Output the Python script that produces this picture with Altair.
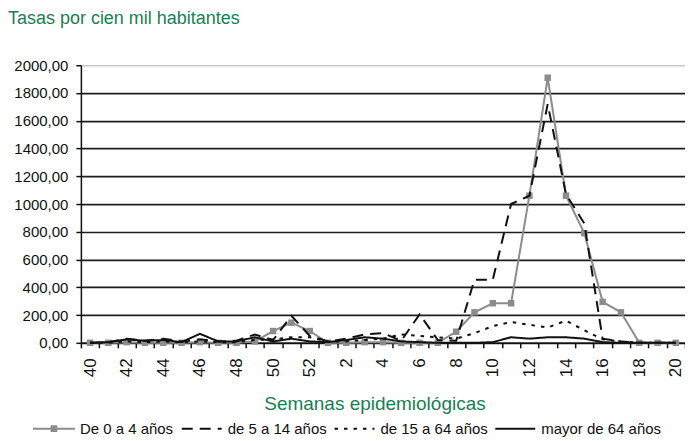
import altair as alt
import pandas as pd

weeks = [str(w) for w in list(range(40, 53)) + list(range(1, 21))]

series_names = ["De 0 a 4 años", "de 5 a 14 años", "de 15 a 64 años", "mayor de 64 años"]

g_0_4 = [0, 0, 5, 0, 0, 0, 5, 0, 0, 10, 85, 145, 85,
         0, 0, 5, 5, 0, 0, 0, 80, 220, 285, 285, 1060, 1910, 1060, 790, 295, 220, 0, 0, 0]
g_5_14 = [0, 5, 30, 15, 30, 10, 25, 10, 15, 60, 20, 195, 50,
          10, 30, 60, 70, 15, 205, 20, 15, 455, 455, 1000, 1060, 1720, 1070, 860, 30, 10, 0, 0, 0]
g_15_64 = [0, 0, 10, 5, 10, 5, 10, 5, 5, 20, 25, 40, 40,
           10, 10, 20, 30, 60, 50, 40, 30, 70, 120, 150, 130, 110, 160, 90, 25, 10, 0, 0, 0]
g_64 = [0, 5, 25, 15, 20, 5, 65, 10, 10, 40, 10, 30, 10,
        5, 20, 40, 30, 10, 5, 0, 0, 0, 5, 40, 30, 40, 40, 30, 5, 0, 0, 0, 0]

y_ticks = list(range(0, 2001, 200))

rows = []
for name, vals in zip(series_names, [g_0_4, g_5_14, g_15_64, g_64]):
    for w, v in zip(weeks, vals):
        rows.append({"semana": w, "tasa": v, "grupo": name})
df = pd.DataFrame(rows)
df_gray = df[df["grupo"] == series_names[0]]
df_black = df[df["grupo"] != series_names[0]]

FONT = "Liberation Sans"
GREEN = "#1b7d55"
GRAY = "#8c8c8c"
BLACK = "#111111"

x_enc = alt.X(
    "semana:N",
    sort=weeks,
    bandPosition=0.5,
    scale=alt.Scale(type="band", paddingInner=0, paddingOuter=0),
    axis=alt.Axis(
        title="Semanas epidemiológicas",
        titleColor=GREEN,
        titleFont=FONT,
        titleFontSize=19,
        titleFontWeight="normal",
        titlePadding=18,
        titleX=294,
        labelAngle=270,
        labelFont=FONT,
        labelFontSize=17,
        labelColor=BLACK,
        labelPadding=10,
        labelOverlap=False,
        labelExpr="toNumber(datum.value) % 2 == 0 ? datum.value : ''",
        tickBand="extent",
        tickColor=BLACK,
        tickSize=5,
        tickWidth=1.5,
        domainColor=BLACK,
        domainWidth=1.5,
        grid=False,
    ),
)

y_enc = alt.Y(
    "tasa:Q",
    scale=alt.Scale(domain=[0, 2000], nice=False),
    axis=alt.Axis(
        title=None,
        values=y_ticks,
        labelExpr="replace(format(datum.value, '.2f'), '.', ',')",
        labelFont=FONT,
        labelFontSize=15,
        labelColor=BLACK,
        labelPadding=8,
        tickColor=BLACK,
        tickSize=5,
        tickWidth=1.5,
        domainColor=BLACK,
        domainWidth=1.5,
        grid=True,
        gridColor={"condition": {"test": "datum.value >= 2000", "value": "#c8c8c8"}, "value": "#1e1e1e"},
        gridWidth=1.7,
    ),
)

legend_gray = alt.Legend(
    title=None,
    orient="none",
    legendX=-48,
    legendY=343,
    symbolSize=1764,
    symbolOpacity=1,
    symbolFillColor=GRAY,
    symbolStrokeWidth=0,
    labelFont=FONT,
    labelFontSize=15,
    labelColor=BLACK,
    labelOffset=5,
)

legend_black = alt.Legend(
    title=None,
    orient="none",
    legendX=100,
    legendY=343,
    direction="horizontal",
    columns=3,
    columnPadding=3,
    symbolType="stroke",
    symbolSize=1600,
    symbolStrokeWidth=2,
    symbolStrokeColor=BLACK,
    labelFont=FONT,
    labelFontSize=15,
    labelColor=BLACK,
    labelOffset=5,
)

gray_line = alt.Chart(df_gray).mark_line(strokeWidth=2, color=GRAY).encode(x=x_enc, y=y_enc)

gray_pts = alt.Chart(df_gray).mark_square(size=42, color=GRAY, opacity=1).encode(x=x_enc, y=y_enc)

gray_legend_layer = alt.Chart(df_gray).mark_point(filled=True, color=GRAY, opacity=0).encode(
    x=x_enc,
    y=y_enc,
    shape=alt.Shape(
        "grupo:N",
        scale=alt.Scale(
            domain=[series_names[0]],
            range=["M-1,-0.05H1V0.05H-1ZM-0.16,-0.16H0.16V0.16H-0.16Z"],
        ),
        legend=legend_gray,
    ),
)

black_lines = alt.Chart(df_black).mark_line(strokeWidth=2, color=BLACK).encode(
    x=x_enc,
    y=y_enc,
    strokeDash=alt.StrokeDash(
        "grupo:N",
        sort=series_names[1:],
        scale=alt.Scale(domain=series_names[1:], range=[[11, 7], [3.5, 6], [1, 0]]),
        legend=legend_black,
    ),
)

chart = alt.layer(gray_line, gray_pts, black_lines, gray_legend_layer).properties(
    width=605,
    height=278,
    padding={"left": 73, "top": 57, "right": 0, "bottom": 97},
    autosize=alt.AutoSizeParams(type="none"),
    title=alt.TitleParams(
        "Tasas por cien mil habitantes",
        anchor="start",
        frame="group",
        dx=-73,
        offset=30,
        font=FONT,
        fontSize=18,
        fontWeight="normal",
        color=GREEN,
    ),
).configure_view(stroke=None)

chart.save("out.html", embed_options={"renderer": "svg", "actions": False})
